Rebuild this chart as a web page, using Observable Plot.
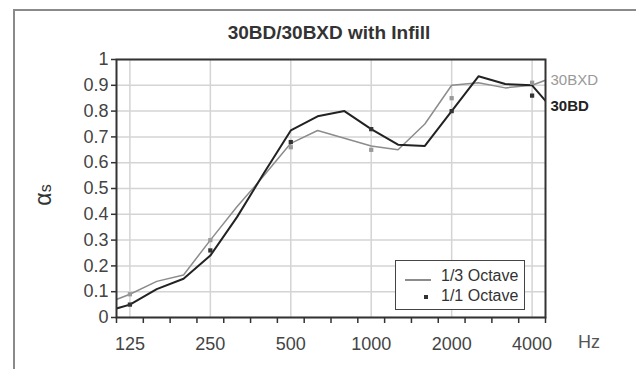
<!DOCTYPE html>
<html>
<head>
<meta charset="utf-8">
<script src="https://cdn.jsdelivr.net/npm/d3@7"></script>
<script src="https://cdn.jsdelivr.net/npm/@observablehq/plot@0.6"></script>
<style>
  body { margin: 0; background: #fff; font-family: "Liberation Sans", Arial, sans-serif; }
  #wrap { position: relative; width: 636px; height: 369px; overflow: hidden; background: #fff; }
  .abs { position: absolute; }
</style>
</head>
<body>
<div id="wrap">
  <div class="abs" style="left:13px;top:9px;width:700px;height:400px;border-left:2px solid #8a8a8a;border-top:2px solid #8a8a8a;"></div>
  <div id="chart" class="abs" style="left:0;top:0;"></div>
  <div class="abs" style="left:129px;top:23px;width:400px;text-align:center;font-weight:bold;font-size:19px;line-height:19px;color:#333;">30BD/30BXD with Infill</div>
  <div class="abs" style="left:43px;top:195px;transform:translate(-50%,-50%) rotate(-90deg);white-space:nowrap;line-height:1;color:#333;"><span style="font-size:23px;">α</span><span style="font-size:16px;">s</span></div>
  <div class="abs" style="left:578px;top:333px;font-size:18px;line-height:18px;color:#555;">Hz</div>
  <div class="abs" style="left:395px;top:260px;width:130px;height:50px;box-sizing:border-box;border:1.5px solid #444;background:#fff;">
    <div class="abs" style="left:9px;top:18px;width:26px;height:0;border-top:2px solid #8c8c8c;"></div>
    <div class="abs" style="left:45px;top:6.5px;font-size:16px;line-height:16px;color:#333;white-space:nowrap;">1/3 Octave</div>
    <div class="abs" style="left:28px;top:34px;width:4px;height:4px;background:#333;"></div>
    <div class="abs" style="left:45px;top:27px;font-size:16px;line-height:16px;color:#333;white-space:nowrap;">1/1 Octave</div>
  </div>
</div>
<script>
// 1/3-octave band centre frequencies (Hz)
const freqs = [100, 125, 160, 200, 250, 315, 400, 500, 630, 800, 1000, 1250, 1600, 2000, 2500, 3150, 4000, 5000];
// 1/3-octave absorption values
const bxdThird = [0.05, 0.09, 0.14, 0.165, 0.30, 0.43, 0.55, 0.675, 0.725, 0.695, 0.665, 0.65, 0.75, 0.90, 0.91, 0.89, 0.90, 0.94];
const bdThird  = [0.02, 0.05, 0.11, 0.15, 0.24, 0.39, 0.56, 0.725, 0.78, 0.80, 0.73, 0.67, 0.665, 0.80, 0.935, 0.905, 0.90, 0.78];
// 1/1-octave values
const octaves = [125, 250, 500, 1000, 2000, 4000];
const bxdOct = [0.09, 0.30, 0.66, 0.65, 0.85, 0.91];
const bdOct  = [0.05, 0.26, 0.68, 0.73, 0.80, 0.86];
// axis ticks
const yTicks = [0, 0.1, 0.2, 0.3, 0.4, 0.5, 0.6, 0.7, 0.8, 0.9, 1];
const seriesNames = ["30BXD", "30BD"];

const idx = f => freqs.indexOf(f) - 1; // 125 Hz -> band 0
const bandEdges = d3.range(-0.5, 16, 1);
const octIdx = octaves.map(idx);

const bxdLine = freqs.map((f, i) => ({i: idx(f), v: bxdThird[i]}));
const bdLine = freqs.map((f, i) => ({i: idx(f), v: bdThird[i]}));
const bxdDots = octaves.map((f, k) => ({i: idx(f), v: bxdOct[k]}));
const bdDots = octaves.map((f, k) => ({i: idx(f), v: bdOct[k]}));

const n = freqs.length;
const endBXD = [{name: seriesNames[0], i: 15.5, v: (bxdThird[n - 2] + bxdThird[n - 1]) / 2}];
const endBD = [{name: seriesNames[1], i: 15.5, v: (bdThird[n - 2] + bdThird[n - 1]) / 2}];

const chart = Plot.plot({
  width: 636,
  height: 369,
  marginLeft: 116,
  marginRight: 91,
  marginTop: 59,
  marginBottom: 52,
  x: {type: "linear", domain: [-0.5, 15.5]},
  y: {domain: [0, 1]},
  style: {fontFamily: "'Liberation Sans', Arial, sans-serif", color: "#333", background: "transparent", overflow: "visible"},
  marks: [
    Plot.gridY(yTicks, {stroke: "#d4d4d4", strokeOpacity: 1, strokeWidth: 1.5}),
    Plot.gridX(octIdx, {stroke: "#d4d4d4", strokeOpacity: 1, strokeWidth: 1.5}),
    Plot.line(bxdLine, {x: "i", y: "v", stroke: "#8c8c8c", strokeWidth: 1.5, clip: true}),
    Plot.line(bdLine, {x: "i", y: "v", stroke: "#222", strokeWidth: 2, clip: true}),
    Plot.dot(bxdDots, {x: "i", y: "v", symbol: "square", r: 2.4, fill: "#999"}),
    Plot.dot(bdDots, {x: "i", y: "v", symbol: "square", r: 2.4, fill: "#333"}),
    Plot.frame({stroke: "#333", strokeWidth: 2}),
    Plot.axisY(yTicks, {tickSize: 5, tickPadding: 3, fontSize: 18, tickFormat: d => String(d), label: null, strokeWidth: 1.5, fill: "#444"}),
    Plot.axisX(bandEdges, {tickSize: 6, tickFormat: () => "", label: null, strokeWidth: 1.5}),
    Plot.axisX(octIdx, {tickSize: 0, tickPadding: 20, fontSize: 18, tickFormat: i => String(freqs[i + 1]), label: null, fill: "#444"}),
    Plot.text(endBXD, {x: "i", y: "v", text: "name", textAnchor: "start", dx: 5, fontSize: 15, fill: "#999"}),
    Plot.text(endBD, {x: "i", y: "v", text: "name", textAnchor: "start", dx: 5, dy: 5, fontSize: 15, fontWeight: "bold", fill: "#222"})
  ]
});
document.getElementById("chart").appendChild(chart);
</script>
</body>
</html>
